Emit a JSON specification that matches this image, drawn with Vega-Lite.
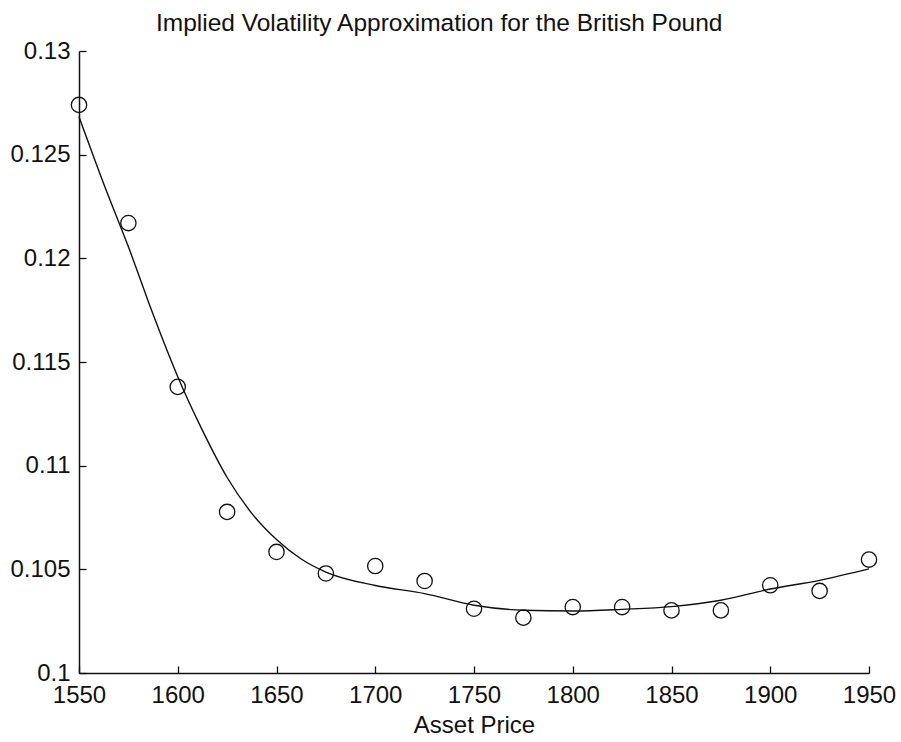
{
  "$schema": "https://vega.github.io/schema/vega-lite/v6.json",
  "autosize": "none",
  "width": 790,
  "height": 622,
  "padding": {"left": 79, "top": 51, "right": 32, "bottom": 69},
  "background": "white",
  "title": {
    "text": "Implied Volatility Approximation for the British Pound",
    "anchor": "start",
    "dx": 146,
    "offset": 3,
    "font": "Liberation Sans",
    "fontSize": 24.5,
    "fontWeight": "normal",
    "color": "#111"
  },
  "config": {
    "view": {"stroke": null},
    "axis": {
      "grid": false,
      "domainColor": "#111",
      "domainWidth": 1.5,
      "tickColor": "#111",
      "tickWidth": 1.3,
      "labelFlush": false,
      "labelFont": "Liberation Sans",
      "labelFontSize": 24,
      "labelColor": "#111",
      "titleFont": "Liberation Sans",
      "titleFontSize": 24,
      "titleFontWeight": "normal",
      "titleColor": "#111"
    }
  },
  "datasets": {
    "points": [
      {"price": 1550, "vol": 0.1274},
      {"price": 1575, "vol": 0.1217},
      {"price": 1600, "vol": 0.1138},
      {"price": 1625, "vol": 0.10777},
      {"price": 1650, "vol": 0.10584},
      {"price": 1675, "vol": 0.1048},
      {"price": 1700, "vol": 0.10516},
      {"price": 1725, "vol": 0.10444},
      {"price": 1750, "vol": 0.1031},
      {"price": 1775, "vol": 0.10267},
      {"price": 1800, "vol": 0.10318},
      {"price": 1825, "vol": 0.10318},
      {"price": 1850, "vol": 0.10302},
      {"price": 1875, "vol": 0.10302},
      {"price": 1900, "vol": 0.10423},
      {"price": 1925, "vol": 0.10396},
      {"price": 1950, "vol": 0.10547}
    ],
    "curve": [
      {"price": 1550, "vol": 0.12683},
      {"price": 1562.5, "vol": 0.12360},
      {"price": 1575, "vol": 0.12056},
      {"price": 1587.5, "vol": 0.11730},
      {"price": 1600, "vol": 0.11429},
      {"price": 1612.5, "vol": 0.11170},
      {"price": 1625, "vol": 0.10943},
      {"price": 1637.5, "vol": 0.10770},
      {"price": 1650, "vol": 0.10644},
      {"price": 1662.5, "vol": 0.10550},
      {"price": 1675, "vol": 0.10487},
      {"price": 1700, "vol": 0.10422},
      {"price": 1725, "vol": 0.10383},
      {"price": 1750, "vol": 0.10327},
      {"price": 1775, "vol": 0.10303},
      {"price": 1800, "vol": 0.10299},
      {"price": 1825, "vol": 0.10307},
      {"price": 1850, "vol": 0.1032},
      {"price": 1875, "vol": 0.10351},
      {"price": 1900, "vol": 0.10405},
      {"price": 1925, "vol": 0.10447},
      {"price": 1950, "vol": 0.10502}
    ]
  },
  "layer": [
    {
      "data": {"name": "curve"},
      "mark": {"type": "line", "color": "#111", "strokeWidth": 1.4, "interpolate": "monotone"},
      "encoding": {
        "x": {
          "field": "price", "type": "quantitative",
          "scale": {"domain": [1550, 1950], "nice": false, "zero": false},
          "axis": {"values": [1550, 1600, 1650, 1700, 1750, 1800, 1850, 1900, 1950], "format": "d", "tickSize": -7, "labelPadding": 17, "title": "Asset Price", "titlePadding": 6}
        },
        "y": {
          "field": "vol", "type": "quantitative",
          "scale": {"domain": [0.1, 0.13], "nice": false, "zero": false},
          "axis": {"values": [0.1, 0.105, 0.11, 0.115, 0.12, 0.125, 0.13], "format": ".3~f", "tickSize": -7, "labelPadding": 16, "title": null}
        }
      }
    },
    {
      "data": {"name": "points"},
      "mark": {"type": "point", "shape": "circle", "filled": false, "color": "#111", "strokeWidth": 1.3, "size": 235, "opacity": 1},
      "encoding": {
        "x": {"field": "price", "type": "quantitative"},
        "y": {"field": "vol", "type": "quantitative"}
      }
    }
  ]
}
